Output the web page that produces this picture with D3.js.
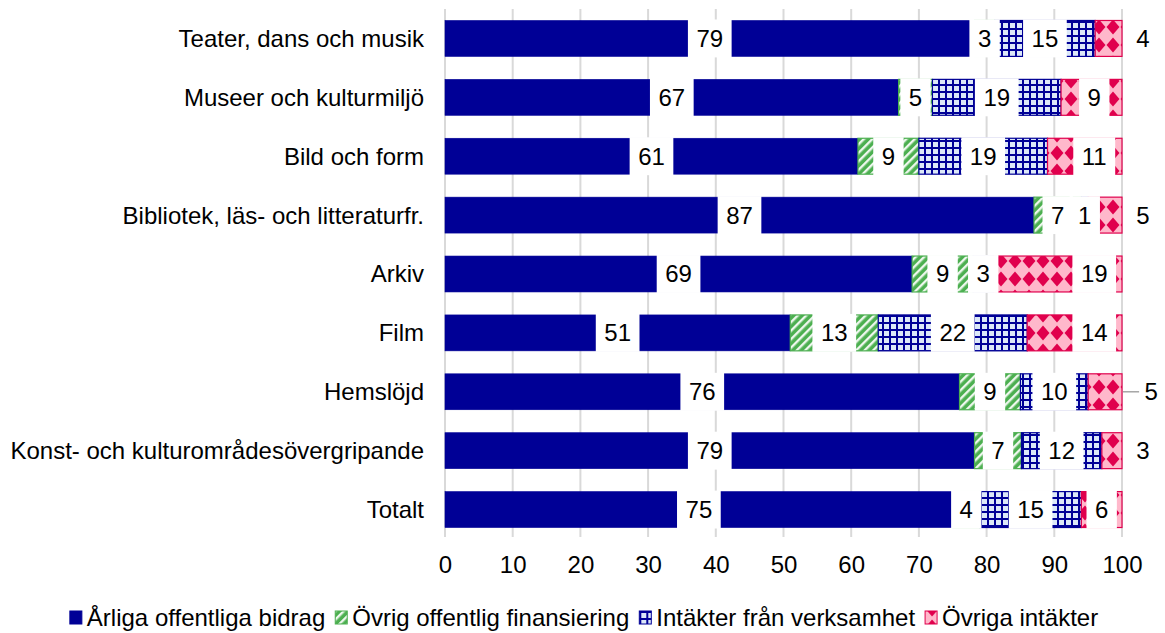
<!DOCTYPE html>
<meta charset="utf-8">
<script src="https://d3js.org/d3.v7.min.js"></script>
<style>
  body { margin: 0; background: #fff; }
  text { font-family: "Liberation Sans", Arial, sans-serif; fill: #000; }
</style>
<div id="chart"></div>
<script>

// data (percent)
var kategorier = ["Teater, dans och musik", "Museer och kulturmiljö", "Bild och form",
  "Bibliotek, läs- och litteraturfr.", "Arkiv", "Film", "Hemslöjd",
  "Konst- och kulturområdesövergripande", "Totalt"];
var arligaBidrag       = [79, 67, 61, 87, 69, 51, 76, 79, 75];
var ovrigOffentlig     = [ 3,  5,  9,  7,  9, 13,  9,  7,  4];
var intakterVerksamhet = [15, 19, 19,  1,  3, 22, 10, 12, 15];
var ovrigaIntakter     = [ 4,  9, 11,  5, 19, 14,  5,  3,  6];
var serier = ["Årliga offentliga bidrag", "Övrig offentlig finansiering",
  "Intäkter från verksamhet", "Övriga intäkter"];
var xTicks = [0, 10, 20, 30, 40, 50, 60, 70, 80, 90, 100];

var width = 1165, height = 633;
var margin = {top: 9, right: 43, bottom: 94, left: 445};
var fs = "24px";

var svg = d3.select("#chart").append("svg")
  .attr("width", width)
  .attr("height", height);

// patterns
var defs = svg.append("defs");

var pGreen = defs.append("pattern").attr("id", "pGreen")
  .attr("patternUnits", "userSpaceOnUse")
  .attr("width", 6).attr("height", 6)
  .attr("patternTransform", "rotate(45)");
pGreen.append("rect").attr("width", 6).attr("height", 6).attr("fill", "#4caf50");
pGreen.append("rect").attr("width", 2.4).attr("height", 6).attr("fill", "#eef7ee");

var pGrid = defs.append("pattern").attr("id", "pGrid")
  .attr("patternUnits", "userSpaceOnUse")
  .attr("width", 7).attr("height", 7);
pGrid.append("rect").attr("width", 7).attr("height", 7).attr("fill", "#dce8f8");
pGrid.append("rect").attr("width", 2).attr("height", 7).attr("fill", "#000096");
pGrid.append("rect").attr("width", 7).attr("height", 2).attr("fill", "#000096");

var pPink = defs.append("pattern").attr("id", "pPink")
  .attr("patternUnits", "userSpaceOnUse")
  .attr("width", 14).attr("height", 18);
pPink.append("rect").attr("width", 14).attr("height", 18).attr("fill", "#ffb8cb");
pPink.append("path").attr("d", "M7,1.5 L13.5,9 L7,16.5 L0.5,9 Z").attr("fill", "#e0004d");

var fills = ["#000096", "url(#pGreen)", "url(#pGrid)", "url(#pPink)"];
var strokes = ["#000096", "#4caf50", "#000096", "#e0004d"];

// table for the stack
var rader = kategorier.map(function(k, i) {
  var r = {kategori: k};
  r[serier[0]] = arligaBidrag[i];
  r[serier[1]] = ovrigOffentlig[i];
  r[serier[2]] = intakterVerksamhet[i];
  r[serier[3]] = ovrigaIntakter[i];
  return r;
});

var stacked = d3.stack().keys(serier).offset(d3.stackOffsetExpand)(rader);

var x = d3.scaleLinear().domain([0, 100]).range([margin.left, width - margin.right]);
var y = d3.scaleBand().domain(kategorier)
  .range([margin.top, height - margin.bottom])
  .paddingInner(0.39).paddingOuter(0.195);

// gridlines
svg.append("g").selectAll("line")
  .data(xTicks).enter().append("line")
  .attr("x1", function(d) { return x(d); })
  .attr("x2", function(d) { return x(d); })
  .attr("y1", margin.top)
  .attr("y2", height - margin.bottom - 2)
  .attr("stroke", "#d9d9d9")
  .attr("stroke-width", 2);

// x axis labels
var xAxis = svg.append("g")
  .attr("transform", "translate(0," + (height - margin.bottom + 9) + ")")
  .call(d3.axisBottom(x).tickValues(xTicks).tickSize(0).tickPadding(8));
xAxis.select(".domain").remove();
xAxis.selectAll("text")
  .style("font-family", "'Liberation Sans', Arial, sans-serif")
  .style("font-size", fs)
  .attr("fill", "#000");

// category labels
svg.append("g").selectAll("text")
  .data(kategorier).enter().append("text")
  .attr("x", margin.left - 21)
  .attr("y", function(d) { return y(d) + y.bandwidth() / 2; })
  .attr("dy", "0.35em")
  .attr("text-anchor", "end")
  .style("font-size", fs)
  .text(function(d) { return d; });

// bars
stacked.forEach(function(s, si) {
  svg.append("g").selectAll("rect")
    .data(s).enter().append("rect")
    .attr("x", function(d) { return x(d[0] * 100); })
    .attr("y", function(d) { return y(d.data.kategori); })
    .attr("width", function(d) { return x(d[1] * 100) - x(d[0] * 100); })
    .attr("height", y.bandwidth())
    .attr("fill", fills[si])
    .attr("stroke", strokes[si])
    .attr("stroke-width", si === 0 ? 0.6 : 1.2);
});

// data labels with white boxes
var etiketter = [];
stacked.forEach(function(s, si) {
  s.forEach(function(d, i) {
    var v = d.data[serier[si]];
    var mitt = (d[0] + d[1]) / 2 * 100;
    var leader = false;
    if (si === 3) {
      if (v <= 5) {
        mitt = 103.1;
        if (d.data.kategori === "Hemslöjd") { mitt = 104.3; leader = true; }
      } else {
        mitt = Math.max(mitt, 95.9);
      }
    }
    etiketter.push({v: v, xv: mitt, kat: d.data.kategori, leader: leader});
  });
});

var lg = svg.append("g").selectAll("g")
  .data(etiketter).enter().append("g")
  .attr("transform", function(d) {
    return "translate(" + x(d.xv) + "," + (y(d.kat) + y.bandwidth() / 2) + ")";
  });

lg.append("text")
  .attr("text-anchor", "middle")
  .attr("dy", "0.35em")
  .style("font-size", fs)
  .text(function(d) { return d.v; });

lg.insert("rect", "text")
  .attr("x", function() { return -this.nextSibling.getComputedTextLength() / 2 - 8.5; })
  .attr("width", function() { return this.nextSibling.getComputedTextLength() + 17; })
  .attr("y", -y.bandwidth() / 2 - 1)
  .attr("height", y.bandwidth() + 2)
  .attr("fill", "#fff");

// leader line for moved label
etiketter.filter(function(d) { return d.leader; }).forEach(function(d) {
  var cy = y(d.kat) + y.bandwidth() / 2;
  svg.append("line")
    .attr("x1", x(100) + 1).attr("x2", x(d.xv) - 12)
    .attr("y1", cy).attr("y2", cy)
    .attr("stroke", "#a6a6a6").attr("stroke-width", 1.5);
});

// legend
var legend = svg.append("g");
var lx = 0;
serier.forEach(function(s, si) {
  var item = legend.append("g").attr("transform", "translate(" + lx + ",0)");
  item.append("rect")
    .attr("x", 0).attr("y", -7)
    .attr("width", 12).attr("height", 13)
    .attr("fill", fills[si])
    .attr("stroke", strokes[si]).attr("stroke-width", 1);
  var t = item.append("text")
    .attr("x", 17).attr("dy", "0.35em")
    .style("font-size", fs)
    .text(s);
  lx += 17 + t.node().getComputedTextLength() + 10;
});
legend.attr("transform", "translate(" + (584 - (lx - 10) / 2) + ",618)");

</script>
